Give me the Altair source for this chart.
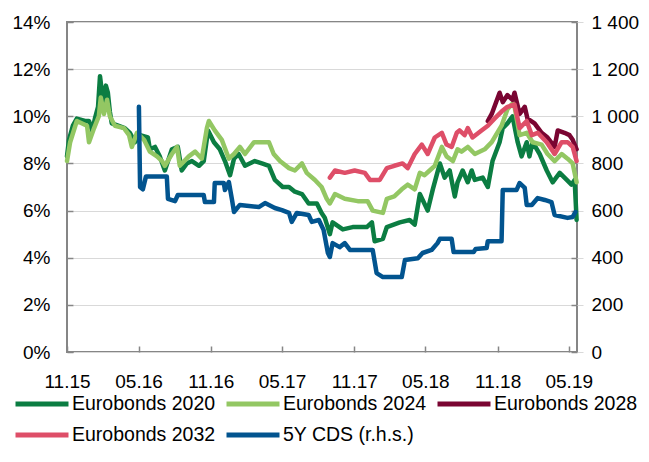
import altair as alt
import pandas as pd

# ---------------- data ----------------
SERIES = ["Eurobonds 2020", "Eurobonds 2024", "Eurobonds 2028", "Eurobonds 2032", "5Y CDS (r.h.s.)"]
COLORS = ["#0B7D42", "#93C763", "#7A0532", "#DE4E68", "#02548F"]

EB2020_DATES = ["2015-11-01", "2015-11-06", "2015-11-16", "2015-11-26", "2015-12-17", "2015-12-27",
                "2016-01-04", "2016-01-11", "2016-01-19", "2016-01-24", "2016-02-01", "2016-02-08",
                "2016-02-13", "2016-02-18", "2016-02-23", "2016-03-10", "2016-03-27", "2016-04-09",
                "2016-04-22", "2016-05-05", "2016-05-25", "2016-05-30", "2016-06-12", "2016-06-24",
                "2016-07-07", "2016-07-25", "2016-08-09", "2016-08-19", "2016-09-01", "2016-09-14",
                "2016-10-02", "2016-10-14", "2016-10-25", "2016-11-09", "2016-11-24", "2016-12-07",
                "2016-12-20", "2016-12-30", "2017-01-11", "2017-01-27", "2017-02-21", "2017-03-11",
                "2017-03-29", "2017-04-13", "2017-05-03", "2017-05-19", "2017-06-03", "2017-06-21",
                "2017-07-08", "2017-07-29", "2017-08-10", "2017-08-18", "2017-08-31", "2017-09-07",
                "2017-10-03", "2017-10-28", "2017-12-03", "2017-12-16", "2017-12-23", "2018-01-13",
                "2018-01-23", "2018-02-25", "2018-03-22", "2018-04-04", "2018-04-17", "2018-05-07",
                "2018-05-20", "2018-06-07", "2018-06-19", "2018-07-02", "2018-07-15", "2018-07-22",
                "2018-08-04", "2018-08-17", "2018-08-27", "2018-09-04", "2018-09-24", "2018-10-07",
                "2018-10-19", "2018-11-06", "2018-11-14", "2018-11-26", "2018-12-09", "2018-12-22",
                "2019-01-01", "2019-01-14", "2019-01-21", "2019-01-29", "2019-02-16", "2019-03-06",
                "2019-03-21", "2019-04-08", "2019-04-26", "2019-05-08", "2019-05-16", "2019-05-21"]
EB2020_VALUES = [8.3, 9.0, 9.6, 9.9, 9.8, 9.8,
                 9.4, 9.9, 10.4, 11.7, 10.6, 11.3,
                 11.0, 10.2, 9.7, 9.6, 9.5, 9.3,
                 8.9, 9.2, 9.1, 8.6, 8.7, 8.3,
                 7.7, 8.6, 8.7, 7.7, 8.0, 8.1,
                 7.9, 8.1, 9.4, 8.9, 8.6, 8.1,
                 7.5, 8.2, 8.4, 7.9, 8.1, 8.0,
                 7.9, 7.3, 7.0, 7.0, 6.8, 6.7,
                 6.3, 6.3, 5.9, 5.7, 5.0, 5.5,
                 5.2, 5.3, 5.3, 5.5, 4.7, 4.8,
                 5.3, 5.5, 5.6, 5.4, 6.7, 6.0,
                 6.9, 8.0, 7.4, 7.7, 6.6, 7.2,
                 7.7, 7.2, 7.7, 7.3, 7.4, 7.0,
                 8.1, 8.9, 9.5, 9.7, 10.0, 8.9,
                 8.3, 8.9, 8.3, 8.9, 8.4, 7.7,
                 7.2, 7.6, 7.3, 7.1, 7.3, 5.6]

EB2024_DATES = ["2015-11-01", "2015-11-09", "2015-11-26", "2015-12-22", "2015-12-27", "2016-01-09",
                "2016-01-21", "2016-01-26", "2016-02-03", "2016-02-11", "2016-02-18", "2016-03-02",
                "2016-03-25", "2016-04-07", "2016-04-14", "2016-04-27", "2016-05-15", "2016-05-30",
                "2016-06-17", "2016-06-30", "2016-07-07", "2016-07-25", "2016-08-07", "2016-08-14",
                "2016-09-06", "2016-09-22", "2016-10-09", "2016-10-22", "2016-10-27", "2016-11-11",
                "2016-11-29", "2016-12-17", "2016-12-30", "2017-01-14", "2017-01-27", "2017-02-19",
                "2017-03-29", "2017-04-10", "2017-04-26", "2017-05-19", "2017-06-03", "2017-06-21",
                "2017-07-03", "2017-07-24", "2017-08-10", "2017-08-23", "2017-08-31", "2017-09-13",
                "2017-10-08", "2017-11-10", "2017-12-05", "2017-12-18", "2018-01-13", "2018-01-23",
                "2018-02-11", "2018-03-02", "2018-03-17", "2018-04-04", "2018-04-17", "2018-04-29",
                "2018-05-12", "2018-05-25", "2018-06-12", "2018-06-24", "2018-07-10", "2018-07-22",
                "2018-08-01", "2018-08-17", "2018-09-04", "2018-09-29", "2018-10-17", "2018-11-11",
                "2018-11-26", "2018-12-12", "2018-12-27", "2019-01-14", "2019-01-29", "2019-02-21",
                "2019-03-08", "2019-03-26", "2019-04-13", "2019-04-28", "2019-05-11", "2019-05-21"]
EB2024_VALUES = [8.1, 8.9, 9.8, 9.6, 8.9, 9.5,
                 10.0, 10.8, 10.1, 10.7, 10.0, 9.6,
                 9.5, 9.2, 8.7, 9.3, 9.0, 8.5,
                 8.3, 8.1, 7.9, 8.4, 8.7, 7.9,
                 8.3, 8.5, 8.2, 9.5, 9.8, 9.4,
                 9.0, 8.2, 8.4, 8.7, 8.4, 8.9,
                 8.9, 8.4, 8.1, 7.8, 7.7, 8.0,
                 7.6, 7.3, 7.0, 6.5, 6.3, 6.7,
                 6.5, 6.4, 6.4, 6.0, 5.9, 6.5,
                 6.6, 6.9, 7.1, 6.9, 7.6, 7.5,
                 7.7, 7.9, 8.7, 8.3, 8.1, 8.6,
                 8.5, 8.7, 8.4, 8.6, 8.9, 9.6,
                 10.3, 10.6, 9.2, 9.3, 8.9, 8.8,
                 8.4, 8.1, 8.4, 8.2, 8.0, 7.2]

EB2028_DATES = ["2018-10-07", "2018-10-17", "2018-11-06", "2018-11-14", "2018-11-26", "2018-12-09",
                "2018-12-14", "2018-12-27", "2019-01-09", "2019-01-16", "2019-02-03", "2019-02-21",
                "2019-03-08", "2019-03-26", "2019-04-03", "2019-04-20", "2019-05-03", "2019-05-11",
                "2019-05-21"]
EB2028_VALUES = [9.8, 10.1, 11.0, 10.6, 10.9, 10.7,
                 11.0, 10.1, 10.4, 9.9, 9.7, 9.3,
                 9.1, 8.7, 9.4, 9.3, 9.2, 9.0,
                 8.6]

EB2032_DATES = ["2017-08-31", "2017-09-13", "2017-10-08", "2017-11-02", "2017-11-28", "2017-12-11",
                "2018-01-05", "2018-01-23", "2018-02-11", "2018-03-04", "2018-03-17", "2018-04-04",
                "2018-04-22", "2018-05-07", "2018-05-25", "2018-06-12", "2018-06-24", "2018-07-07",
                "2018-07-20", "2018-07-27", "2018-08-09", "2018-08-17", "2018-08-29", "2018-09-21",
                "2018-10-07", "2018-10-24", "2018-11-11", "2018-11-26", "2018-12-14", "2018-12-27",
                "2019-01-14", "2019-01-27", "2019-02-11", "2019-03-06", "2019-03-26", "2019-04-13",
                "2019-04-28", "2019-05-11", "2019-05-21"]
EB2032_VALUES = [7.4, 7.7, 7.6, 7.7, 7.6, 7.3,
                 7.3, 7.8, 7.9, 8.0, 7.8, 8.4,
                 8.8, 8.4, 9.1, 9.3, 8.8, 8.7,
                 9.3, 9.4, 9.2, 9.5, 9.1, 9.4,
                 9.6, 9.9, 10.2, 10.4, 10.5, 9.5,
                 9.8, 9.2, 9.3, 8.9, 8.4, 8.9,
                 8.9, 8.7, 8.1]

CDS_DATES = ["2016-05-02", "2016-05-05", "2016-05-12", "2016-05-20", "2016-07-12", "2016-07-15",
             "2016-08-02", "2016-08-09", "2016-10-14", "2016-10-17", "2016-11-09", "2016-11-11",
             "2016-12-04", "2016-12-07", "2016-12-17", "2016-12-25", "2016-12-30", "2017-01-14",
             "2017-03-03", "2017-03-19", "2017-04-13", "2017-05-01", "2017-05-19", "2017-05-26",
             "2017-06-08", "2017-07-08", "2017-07-16", "2017-08-03", "2017-08-15", "2017-08-26",
             "2017-08-31", "2017-09-07", "2017-09-25", "2017-10-08", "2017-10-21", "2017-12-18",
             "2017-12-28", "2018-01-13", "2018-03-02", "2018-03-10", "2018-04-12", "2018-04-24",
             "2018-05-17", "2018-06-01", "2018-06-07", "2018-07-07", "2018-07-12", "2018-09-01",
             "2018-09-06", "2018-10-04", "2018-10-07", "2018-11-11", "2018-11-14", "2018-12-19",
             "2018-12-27", "2019-01-09", "2019-01-14", "2019-01-27", "2019-02-11", "2019-03-01",
             "2019-03-18", "2019-03-26", "2019-04-28", "2019-05-11", "2019-05-18"]
CDS_VALUES = [1040, 700, 690, 745, 745, 650,
              640, 666, 666, 636, 636, 717,
              717, 687, 721, 645, 594, 624,
              615, 632, 611, 602, 590, 552,
              590, 581, 552, 560, 518, 420,
              403, 462, 445, 462, 433, 433,
              335, 318, 318, 390, 398, 420,
              433, 462, 480, 480, 424, 424,
              437, 441, 470, 470, 687, 687,
              717, 696, 624, 624, 653, 645,
              636, 581, 569, 573, 594]

LEFT_TICKS = [0, 2, 4, 6, 8, 10, 12, 14]
RIGHT_TICKS = [0, 200, 400, 600, 800, 1000, 1200, 1400]
X_TICKS = [(2015, 11), (2016, 5), (2016, 11), (2017, 5), (2017, 11), (2018, 5), (2018, 11), (2019, 5)]
X_START = (2015, 11, 1)
X_END = (2019, 5, 22)

# ---------------- tables ----------------
bond_frames = []
for name, d, v in [(SERIES[0], EB2020_DATES, EB2020_VALUES),
                   (SERIES[1], EB2024_DATES, EB2024_VALUES),
                   (SERIES[2], EB2028_DATES, EB2028_VALUES),
                   (SERIES[3], EB2032_DATES, EB2032_VALUES)]:
    bond_frames.append(pd.DataFrame({"series": name, "date": d, "value": v}))
bonds_df = pd.concat(bond_frames, ignore_index=True)
cds_df = pd.DataFrame({"series": SERIES[4], "date": CDS_DATES, "cds": CDS_VALUES})

FONT = "Liberation Sans"
GREY = "#868686"

x_enc = alt.X(
    "date:T",
    scale=alt.Scale(type="utc", nice=False,
                    domain=[alt.DateTime(year=X_START[0], month=X_START[1], date=X_START[2], utc=True),
                            alt.DateTime(year=X_END[0], month=X_END[1], date=X_END[2], utc=True)]),
    axis=alt.Axis(values=[alt.DateTime(year=y, month=m, date=1, utc=True) for y, m in X_TICKS],
                  labelExpr="utcFormat(datum.value, '%m.%y')", labelFlush=False,
                  labelOverlap=False, labelPadding=20, grid=False, title=None),
)

color_enc = alt.Color(
    "series:N",
    scale=alt.Scale(domain=SERIES, range=COLORS),
    legend=alt.Legend(orient="none", legendX=-41, legendY=366, columns=3,
                      direction="horizontal", title=None),
)

bonds = alt.Chart(bonds_df).mark_line(strokeWidth=4.5, strokeJoin="round", strokeCap="round").encode(
    x=x_enc,
    y=alt.Y("value:Q", scale=alt.Scale(domain=[0, 14], nice=False),
            axis=alt.Axis(orient="left", values=LEFT_TICKS, labelExpr="datum.value + '%'",
                          grid=True, labelPadding=17, title=None)),
    color=color_enc,
    detail="series:N",
)

cds = alt.Chart(cds_df).mark_line(strokeWidth=4.5, strokeJoin="round", strokeCap="round").encode(
    x=x_enc,
    y=alt.Y("cds:Q", scale=alt.Scale(domain=[0, 1400], nice=False),
            axis=alt.Axis(orient="right", values=RIGHT_TICKS,
                          labelExpr="replace(format(datum.value, ','), ',', ' ')",
                          grid=False, labelPadding=14, title=None)),
    color=color_enc,
)

chart = alt.layer(bonds, cds).resolve_scale(y="independent").properties(
    width=510, height=330,
    autosize=alt.AutoSizeParams(type="none"),
    padding={"left": 59, "top": 14, "right": 64, "bottom": 97},
).configure(font=FONT).configure_view(
    stroke=GREY, strokeWidth=2
).configure_axis(
    labelFont=FONT, labelFontSize=19, labelColor="#000000", domain=False,
    tickColor=GREY, tickWidth=1.5, tickSize=6, offset=-6,
    gridColor="#D9D9D9", gridWidth=1.2,
).configure_legend(
    labelFont=FONT, labelFontSize=19.5, labelColor="#000000", labelLimit=300,
    symbolType="M-2,0H2", symbolSize=702, symbolStrokeWidth=5,
    labelOffset=14, columnPadding=0, rowPadding=5, padding=0,
)

chart.save("out.html", embed_options={"renderer": "svg", "actions": False})
